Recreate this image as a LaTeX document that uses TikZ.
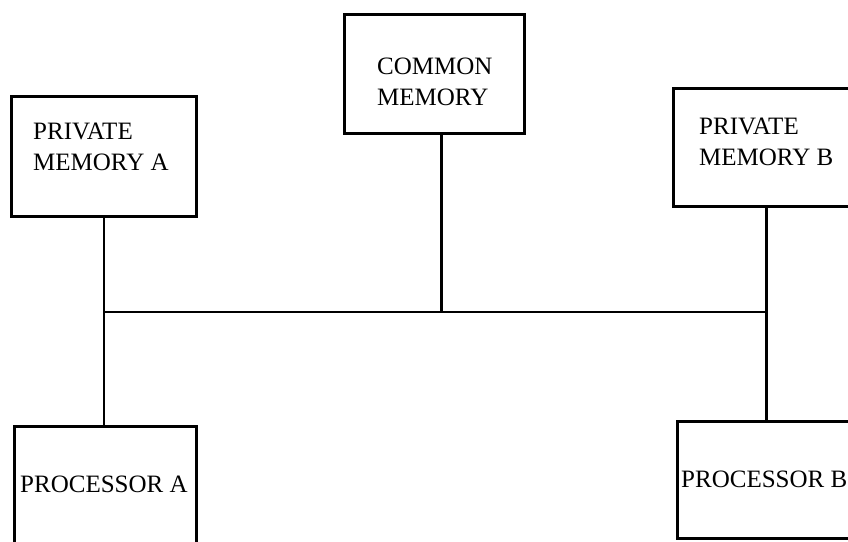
\documentclass[tikz,border=0pt]{standalone}
\usepackage{fontspec}
\setmainfont{Liberation Serif}
\usetikzlibrary{positioning}
\tikzset{
  every node/.style={font=\fontsize{25}{31}\selectfont, text=black},
  unit/.style={draw=black, line width=3pt, rectangle, inner sep=0pt, anchor=north west},
  caption/.style={anchor=base west, inner sep=0pt, align=left},
  wire/.style={draw=black, line width=2.8pt},
}
\begin{document}
\begin{tikzpicture}[x=1pt,y=-1pt]
  \useasboundingbox (0,0) rectangle (848,541);

  % Memories along the top
  \node[unit, minimum width=185pt, minimum height=120pt] (pmemA) at (10,95) {};
  \node[unit, minimum width=180pt, minimum height=119pt] (cmem) at (343,13) {};
  \node[unit, minimum width=186pt, minimum height=118pt] (pmemB) at (672,87) {};
  \node[caption] (pmemAtext) at (33,170) {PRIVATE\\MEMORY A};
  \node[caption] (cmemtext) at (377,105) {COMMON\\MEMORY};
  \node[caption] (pmemBtext) at (699,165) {PRIVATE\\MEMORY B};

  % Processors at the bottom
  \node[unit, minimum width=182pt, minimum height=140pt] (procA) at (13,425) {};
  \node[unit, minimum width=178pt, minimum height=117pt] (procB) at (676,420) {};
  \node[caption] (procAtext) at (20,492) {PROCESSOR A};
  \node[caption] (procBtext) at (681,487) {PROCESSOR B};

  % Shared bus
  \coordinate (busline) at (0,312);
  \draw[wire] (pmemA.south) -- (pmemA.south |- procA.north);
  \draw[wire] (pmemB.south) -- (pmemB.south |- procB.north);
  \draw[wire] (pmemA.south |- busline) -- (pmemB.south |- busline);
  \draw[wire] ([xshift=7pt]cmem.south) -- ([xshift=7pt]cmem.south |- busline);
\end{tikzpicture}
\end{document}
